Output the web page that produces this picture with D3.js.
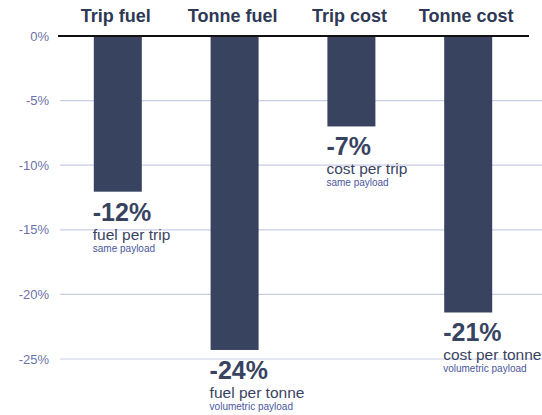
<!DOCTYPE html>
<html><head><meta charset="utf-8">
<script src="https://cdn.jsdelivr.net/npm/d3@7"></script>
<style>body{margin:0;background:#fff}svg{display:block;font-family:"Liberation Sans",Arial,sans-serif}</style>
</head><body><svg id="c" width="542" height="415"></svg>
<script>
const categories = ["Trip fuel", "Tonne fuel", "Trip cost", "Tonne cost"];
const values = [-12.05, -24.3, -7.0, -21.4];
const bigLabels = ["-12%", "-24%", "-7%", "-21%"];
const midLabels = ["fuel per trip", "fuel per tonne", "cost per trip", "cost per tonne"];
const smallLabels = ["same payload", "volumetric payload", "same payload", "volumetric payload"];
const yTicks = [0, -5, -10, -15, -20, -25];

const svg = d3.select("#c");
const y = d3.scaleLinear().domain([0, -25]).range([36, 359]);
const x = d3.scaleBand().domain(categories).range([25, 561]).padding(0.589);

// gridlines
svg.append("g").selectAll("line").data(yTicks.filter(d => d !== 0)).join("line")
  .attr("x1", 60).attr("x2", 542)
  .attr("y1", d => y(d)).attr("y2", d => y(d))
  .attr("stroke", "#c9cde8").attr("stroke-width", 1.2);

// y axis labels
const yAxis = d3.axisLeft(y).tickValues(yTicks).tickFormat(d => d + "%").tickSize(0).tickPadding(0);
const ga = svg.append("g").attr("transform", "translate(49,0)").call(yAxis);
ga.select(".domain").remove();
ga.selectAll("text").attr("fill", "#6a72a8").attr("font-size", 13)
  .attr("font-family", "'Liberation Sans',Arial,sans-serif");

// bars
svg.append("g").selectAll("rect").data(categories).join("rect")
  .attr("x", d => x(d)).attr("width", x.bandwidth())
  .attr("y", y(0)).attr("height", (d, i) => y(values[i]) - y(0))
  .attr("fill", "#38435f");

// baseline
svg.append("line").attr("x1", 58).attr("x2", 529).attr("y1", y(0)).attr("y2", y(0))
  .attr("stroke", "#111").attr("stroke-width", 2.2);

// category headers
svg.append("g").selectAll("text").data(categories).join("text")
  .attr("x", d => x(d) + x.bandwidth() / 2 - 2).attr("y", 22)
  .attr("text-anchor", "middle").attr("font-weight", "bold").attr("font-size", 18)
  .attr("fill", "#2e3955").text(d => d);

// annotations
const ann = svg.append("g").selectAll("g").data(categories).join("g")
  .attr("transform", (d, i) => `translate(${x(d) - 1},${y(values[i])})`);
ann.append("text").attr("y", 29).attr("font-weight", "bold").attr("font-size", 25)
  .attr("fill", "#38435f").text((d, i) => bigLabels[i]);
ann.append("text").attr("y", 48).attr("font-size", 15.5)
  .attr("fill", "#3a4462").text((d, i) => midLabels[i]);
ann.append("text").attr("y", 60).attr("font-size", 10)
  .attr("fill", "#4b56a0").text((d, i) => smallLabels[i]);
</script></body></html>
